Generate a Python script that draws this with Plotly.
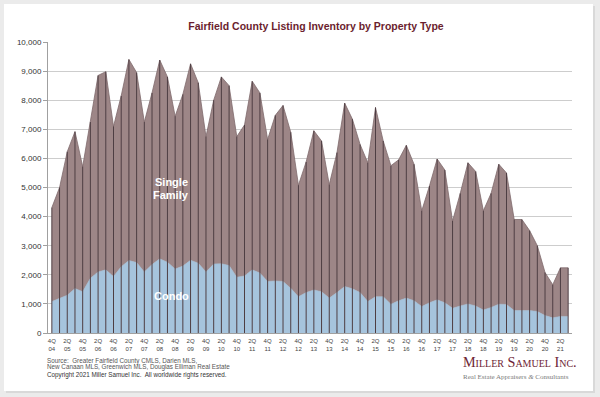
import plotly.graph_objects as go

# ---------------- data ----------------
quarters = [
    "4Q04", "1Q05", "2Q05", "3Q05", "4Q05", "1Q06", "2Q06", "3Q06", "4Q06",
    "1Q07", "2Q07", "3Q07", "4Q07", "1Q08", "2Q08", "3Q08", "4Q08",
    "1Q09", "2Q09", "3Q09", "4Q09", "1Q10", "2Q10", "3Q10", "4Q10",
    "1Q11", "2Q11", "3Q11", "4Q11", "1Q12", "2Q12", "3Q12", "4Q12",
    "1Q13", "2Q13", "3Q13", "4Q13", "1Q14", "2Q14", "3Q14", "4Q14",
    "1Q15", "2Q15", "3Q15", "4Q15", "1Q16", "2Q16", "3Q16", "4Q16",
    "1Q17", "2Q17", "3Q17", "4Q17", "1Q18", "2Q18", "3Q18", "4Q18",
    "1Q19", "2Q19", "3Q19", "4Q19", "1Q20", "2Q20", "3Q20", "4Q20",
    "1Q21", "2Q21", "3Q21",
]

condo = [
    1080, 1200, 1300, 1530, 1420, 1880, 2100, 2170, 1940,
    2280, 2490, 2420, 2100, 2350, 2550, 2430, 2200,
    2300, 2500, 2400, 2100, 2370, 2380, 2320, 1920,
    1960, 2170, 2060, 1770, 1790, 1770, 1540, 1250,
    1390, 1480, 1420, 1200, 1390, 1600, 1520, 1390,
    1080, 1250, 1250, 990, 1110, 1200, 1110, 910,
    1040, 1140, 1040, 850, 930, 1000, 930, 790,
    880, 990, 980, 770, 770, 770, 740, 600,
    520, 570, 570,
]

single_family = [
    3230, 3800, 4930, 5390, 4300, 5370, 6750, 6810, 5160,
    5870, 6910, 6530, 5150, 5900, 6830, 6370, 5250,
    5900, 6750, 6200, 4650, 5630, 6420, 6180, 4830,
    5190, 6480, 6190, 4880, 5690, 6050, 5360, 3830,
    4490, 5470, 5180, 3900, 4810, 6300, 5830, 5090,
    4770, 6500, 5350, 4760, 4840, 5250, 4690, 3290,
    4010, 4840, 4560, 3000, 3870, 4850, 4620, 3410,
    3920, 4810, 4520, 3130, 3130, 2750, 2260, 1480,
    1140, 1670, 1670,
]

y_ticks = [0, 1000, 2000, 3000, 4000, 5000, 6000, 7000, 8000, 9000, 10000]

title_text = "Fairfield County Listing Inventory by Property Type"
source_lines = [
    "Source:  Greater Fairfield County CMLS, Darien MLS,",
    "New Canaan MLS, Greenwich MLS, Douglas Elliman Real Estate",
]
copyright_text = "Copyright 2021 Miller Samuel Inc.  All worldwide rights reserved."

# ---------------- geometry helpers ----------------
W, H = 600, 397
ML, MR, MT, MB = 48, 28, 42, 64
PW, PH = W - ML - MR, H - MT - MB


def px_x(px):
    return (px - ML) / PW


def px_y(py):
    return (H - MB - py) / PH


x_idx = list(range(len(quarters)))
tick_idx = [i for i in x_idx if quarters[i][0] in "24" and i < len(quarters) - 1]
tick_txt = [quarters[i][:2] + "<br>" + quarters[i][2:] for i in tick_idx]

SANS = "Liberation Sans, Arial, Helvetica, sans-serif"
SERIF = "Liberation Serif, Times New Roman, serif"

fig = go.Figure()

fig.add_trace(go.Scatter(
    x=x_idx, y=condo, name="Condo", stackgroup="one", mode="lines",
    line=dict(color="#9cbad4", width=0.6), fillcolor="#a6c4dd",
    hoverinfo="skip", showlegend=False,
))
fig.add_trace(go.Scatter(
    x=x_idx, y=single_family, name="Single Family", stackgroup="one", mode="lines",
    line=dict(color="#7f6a6c", width=0.8), fillcolor="#9d8687",
    hoverinfo="skip", showlegend=False,
))

# vertical drop lines at every quarter, from the stacked totals
vx, vy = [], []
for i, (c, s) in enumerate(zip(condo, single_family)):
    vx += [i, i, None]
    vy += [0, c + s, None]
fig.add_trace(go.Scatter(
    x=vx, y=vy, mode="lines", line=dict(color="#4e3e43", width=1),
    hoverinfo="skip", showlegend=False,
))

# card background + shadow
fig.add_shape(type="rect", xref="paper", yref="paper",
              x0=px_x(6), x1=px_x(595), y0=px_y(393), y1=px_y(6),
              fillcolor="#d9d9d9", line=dict(width=0), layer="below")
fig.add_shape(type="rect", xref="paper", yref="paper",
              x0=px_x(4), x1=px_x(593), y0=px_y(391), y1=px_y(4),
              fillcolor="#ffffff", line=dict(width=0), layer="below")

annotations = [
    dict(x=15.5, y=5180, xref="x", yref="y", text="<b>Single</b>", showarrow=False,
         font=dict(family=SANS, size=11, color="white")),
    dict(x=15.5, y=4750, xref="x", yref="y", text="<b>Family</b>", showarrow=False,
         font=dict(family=SANS, size=11, color="white")),
    dict(x=15.5, y=1285, xref="x", yref="y", text="<b>Condo</b>", showarrow=False,
         font=dict(family=SANS, size=11, color="white")),
    dict(x=px_x(45), y=px_y(361), xref="paper", yref="paper", text=source_lines[0],
         showarrow=False, xanchor="left", yanchor="middle",
         font=dict(family=SANS, size=6.3, color="#555555")),
    dict(x=px_x(45), y=px_y(367), xref="paper", yref="paper", text=source_lines[1],
         showarrow=False, xanchor="left", yanchor="middle",
         font=dict(family=SANS, size=6.3, color="#555555")),
    dict(x=px_x(45), y=px_y(375), xref="paper", yref="paper", text=copyright_text,
         showarrow=False, xanchor="left", yanchor="middle",
         font=dict(family=SANS, size=6.3, color="#333333")),
    dict(x=px_x(461), y=px_y(361.5), xref="paper", yref="paper", text="Miller Samuel Inc.",
         showarrow=False, xanchor="left", yanchor="middle",
         font=dict(family=SERIF, size=14.2, color="#6e2434", variant="small-caps")),
    dict(x=px_x(461), y=px_y(377.5), xref="paper", yref="paper",
         text="Real Estate Appraisers <i>&</i> Consultants",
         showarrow=False, xanchor="left", yanchor="middle",
         font=dict(family=SERIF, size=7, color="#7a7a7a")),
]

fig.update_layout(
    width=W, height=H,
    margin=dict(l=ML, r=MR, t=MT, b=MB, pad=0),
    paper_bgcolor="#ebebeb", plot_bgcolor="#ffffff",
    font=dict(family=SANS, color="#333333"),
    title=dict(text="<b>" + title_text + "</b>", x=316 / W, xanchor="center",
               y=1 - 26 / H, yanchor="middle",
               font=dict(family=SANS, size=10.5, color="#6b1e2e")),
    xaxis=dict(range=[-0.5, len(quarters) - 0.5], tickvals=tick_idx, ticktext=tick_txt,
               tickfont=dict(size=6, color="#444444"), showgrid=False,
               showline=True, linecolor="#a0a0a0", linewidth=1, ticks="", zeroline=False,
               ticklabelstandoff=2),
    yaxis=dict(range=[0, 10000], tickvals=y_ticks, tickformat=",",
               tickfont=dict(size=8, color="#333333"), showgrid=True,
               gridcolor="#cdcdcd", gridwidth=1, showline=True, linecolor="#a0a0a0",
               ticks="outside", ticklen=4, tickcolor="#a0a0a0", zeroline=False),
    annotations=annotations,
    showlegend=False,
    hovermode=False,
)

fig.write_html(
    "out.html",
    config={"displayModeBar": False, "staticPlot": True},
    post_script="document.body.style.margin='0';document.body.style.padding='0';"
                "document.body.style.overflow='hidden';",
)
